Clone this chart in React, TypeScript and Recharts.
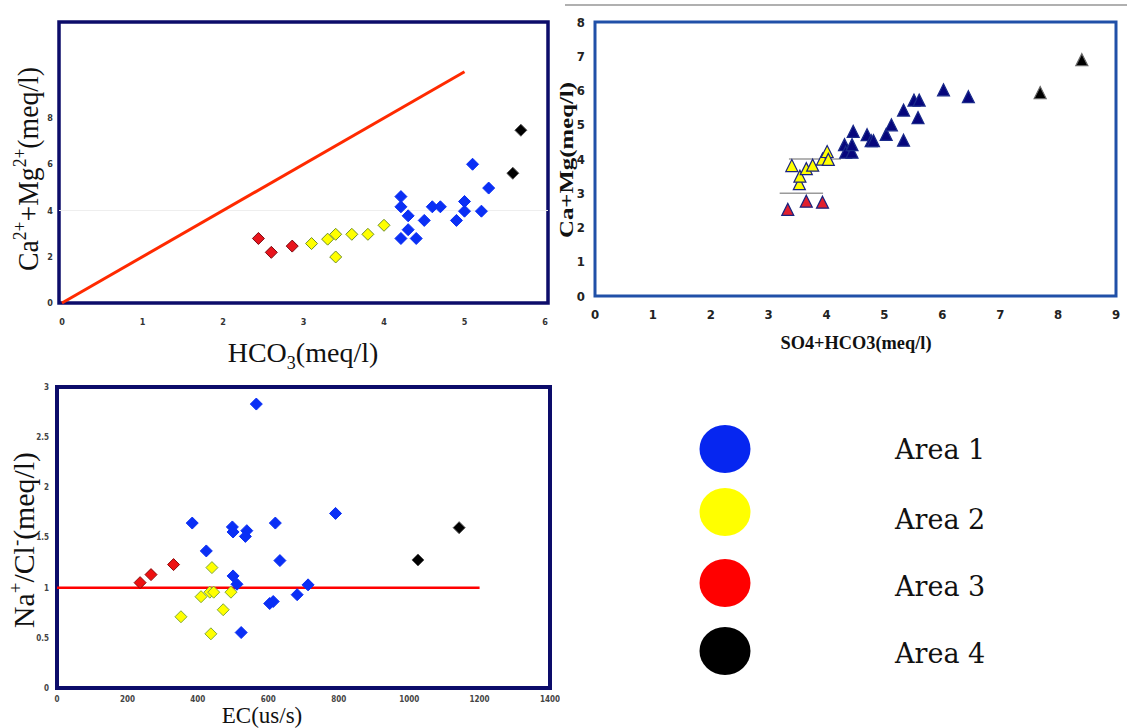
import React from "react";
import {
  ScatterChart,
  Scatter,
  XAxis,
  YAxis,
  ReferenceLine,
  ReferenceArea,
} from "recharts";

// top-left: HCO3 vs Ca2+ + Mg2+ (x, y pairs)
const hco3Area1 = [
  [4.21, 4.6], [4.21, 4.16], [4.21, 2.79], [4.3, 3.77], [4.3, 3.17],
  [4.4, 2.79], [4.5, 3.57], [4.6, 4.16], [4.7, 4.16], [4.9, 3.57],
  [5.0, 4.39], [5.0, 3.97], [5.1, 6.0], [5.21, 3.97], [5.3, 4.97],
];
const hco3Area2 = [
  [3.1, 2.57], [3.3, 2.76], [3.4, 2.97], [3.4, 1.99], [3.6, 2.97], [3.8, 2.97], [4.0, 3.36],
];
const hco3Area3 = [[2.44, 2.79], [2.6, 2.19], [2.86, 2.46]];
const hco3Area4 = [[5.6, 5.61], [5.7, 7.47]];
const hco3Line = [[0, 0], [5, 10]];
const hco3XTicks = [0, 1, 2, 3, 4, 5, 6];
const hco3YTicks = [0, 2, 4, 6, 8];

// top-right: SO4+HCO3 vs Ca+Mg
const so4Area1 = [
  [4.31, 4.39], [4.33, 4.17], [4.44, 4.17], [4.44, 4.39], [4.46, 4.78],
  [4.7, 4.68], [4.77, 4.51], [4.81, 4.51], [5.03, 4.69], [5.12, 4.97],
  [5.33, 4.52], [5.33, 5.4], [5.51, 5.69], [5.6, 5.69], [5.58, 5.18],
  [6.02, 5.99], [6.45, 5.79],
];
const so4Area2 = [
  [3.4, 3.78], [3.53, 3.25], [3.54, 3.47], [3.65, 3.69], [3.76, 3.79],
  [3.93, 3.97], [4.01, 4.19], [4.03, 3.96],
];
const so4Area3 = [[3.33, 2.5], [3.65, 2.74], [3.93, 2.71]];
const so4Area4 = [[7.69, 5.91], [8.41, 6.87]];
const so4GreyLines = [
  [[3.35, 4], [4.25, 4]],
  [[3.19, 3], [3.94, 3]],
];
const so4XTicks = [0, 1, 2, 3, 4, 5, 6, 7, 8, 9];
const so4YTicks = [0, 1, 2, 3, 4, 5, 6, 7, 8];

// bottom-left: EC vs Na+/Cl-
const ecArea1 = [
  [566, 2.83], [384, 1.644], [424, 1.366], [498, 1.605], [500, 1.555],
  [539, 1.568], [535, 1.511], [620, 1.644], [791, 1.74], [633, 1.27],
  [500, 1.117], [511, 1.034], [713, 1.028], [682, 0.93], [604, 0.842],
  [614, 0.862], [523, 0.553],
];
const ecArea2 = [
  [352, 0.71], [409, 0.91], [434, 0.955], [445, 0.955], [440, 1.2],
  [472, 0.78], [494, 0.955], [437, 0.54],
];
const ecArea3 = [[236, 1.05], [267, 1.13], [331, 1.23]];
const ecArea4 = [[1025, 1.276], [1142, 1.598]];
const ecLine = [[0, 1], [1200, 1]];
const ecXTicks = [0, 200, 400, 600, 800, 1000, 1200, 1400];
const ecYTicks = [0, 0.5, 1, 1.5, 2, 2.5, 3];

const areaNames = ["Area 1", "Area 2", "Area 3", "Area 4"];
const areaColors = ["#0626f0", "#ffff00", "#ff0000", "#000000"];

const toPts = (arr: number[][]) => arr.map(([x, y]) => ({ x, y }));

const NAVY = "#0c0c6a";
const SERIF = '"Liberation Serif", "Times New Roman", serif';
const WIDE_SERIF = '"DejaVu Serif", serif';

const diamond = (fill: string, stroke: string) => (p: any) => {
  const { cx, cy } = p;
  return (
    <path
      d={`M${cx},${cy - 6}L${cx + 6},${cy}L${cx},${cy + 6}L${cx - 6},${cy}Z`}
      fill={fill}
      stroke={stroke}
      strokeWidth={1}
    />
  );
};

const triangle = (fill: string, stroke: string) => (p: any) => {
  const { cx, cy } = p;
  return (
    <path
      d={`M${cx},${cy - 7}L${cx + 6},${cy + 5}L${cx - 6},${cy + 5}Z`}
      fill={fill}
      stroke={stroke}
      strokeWidth={1.2}
    />
  );
};

const smallTick = { fontSize: 9, fontWeight: 700, fill: "#333", fontFamily: '"DejaVu Sans Condensed", "DejaVu Sans", sans-serif' };
const tinyTick = { fontSize: 8, fontWeight: 700, fill: "#444", fontFamily: '"DejaVu Sans Condensed", "DejaVu Sans", sans-serif' };
const midTick = { fontSize: 13, fontWeight: 700, fill: "#222", fontFamily: '"Liberation Sans Narrow", "DejaVu Sans Condensed", sans-serif' };

function HcoChart() {
  return (
    <ScatterChart width={560} height={370} margin={{ top: 22, right: 12, left: 29, bottom: 37 }}>
      <XAxis
        type="number"
        dataKey="x"
        domain={[-0.037, 6.037]}
        ticks={hco3XTicks}
        interval={0}
        allowDataOverflow
        height={30}
        axisLine={false}
        tickLine={false}
        tickMargin={10}
        tick={smallTick}
      />
      <YAxis
        type="number"
        dataKey="y"
        domain={[0, 12.15]}
        ticks={hco3YTicks}
        interval={0}
        allowDataOverflow
        width={30}
        axisLine={false}
        tickLine={false}
        tickMargin={0}
        tick={smallTick}
      />
      <ReferenceLine y={4} stroke="#eeeeee" strokeWidth={1} />
      <ReferenceArea x1={-0.037} x2={6.037} y1={0} y2={12.15} fill="none" stroke={NAVY} strokeWidth={3.5} />
      <ReferenceLine segment={toPts(hco3Line)} stroke="#ff2a00" strokeWidth={3} ifOverflow="visible" />
      <Scatter data={toPts(hco3Area3)} shape={diamond("#e8141c", "#7a0a10")} isAnimationActive={false} />
      <Scatter data={toPts(hco3Area2)} shape={diamond("#ffff00", "#6f8f2a")} isAnimationActive={false} />
      <Scatter data={toPts(hco3Area1)} shape={diamond("#0a2ff5", "#0a2ff5")} isAnimationActive={false} />
      <Scatter data={toPts(hco3Area4)} shape={diamond("#000000", "#555555")} isAnimationActive={false} />
    </ScatterChart>
  );
}

function So4Chart() {
  return (
    <ScatterChart width={567} height={370} margin={{ top: 22, right: 11, left: 10, bottom: 44 }}>
      <XAxis
        type="number"
        dataKey="x"
        domain={[0, 9]}
        ticks={so4XTicks}
        interval={0}
        height={30}
        axisLine={false}
        tickLine={false}
        tickMargin={8}
        tick={midTick}
      />
      <YAxis
        type="number"
        dataKey="y"
        domain={[0, 8]}
        ticks={so4YTicks}
        interval={0}
        width={25}
        axisLine={false}
        tickLine={false}
        tickMargin={4}
        tick={midTick}
      />
      <ReferenceArea x1={0} x2={9} y1={0} y2={8} fill="none" stroke="#2050a8" strokeWidth={3} />
      {so4GreyLines.map((s, i) => (
        <ReferenceLine key={i} segment={toPts(s)} stroke="#9a9a9a" strokeWidth={1.5} />
      ))}
      <Scatter data={toPts(so4Area3)} shape={triangle("#e0202e", "#1a237e")} isAnimationActive={false} />
      <Scatter data={toPts(so4Area2)} shape={triangle("#ffff00", "#1a237e")} isAnimationActive={false} />
      <Scatter data={toPts(so4Area1)} shape={triangle("#06067c", "#1a2a8a")} isAnimationActive={false} />
      <Scatter data={toPts(so4Area4)} shape={triangle("#000000", "#666666")} isAnimationActive={false} />
    </ScatterChart>
  );
}

function EcChart() {
  return (
    <ScatterChart width={560} height={358} margin={{ top: 17, right: 10, left: 27, bottom: 15 }}>
      <XAxis
        type="number"
        dataKey="x"
        domain={[0, 1400]}
        ticks={ecXTicks}
        interval={0}
        height={25}
        axisLine={false}
        tickLine={false}
        tickMargin={2}
        tick={tinyTick}
      />
      <YAxis
        type="number"
        dataKey="y"
        domain={[0, 3]}
        ticks={ecYTicks}
        interval={0}
        width={30}
        axisLine={false}
        tickLine={false}
        tickMargin={2}
        tick={tinyTick}
      />
      <ReferenceArea x1={0} x2={1400} y1={0} y2={3} fill="none" stroke={NAVY} strokeWidth={4} />
      <ReferenceLine segment={toPts(ecLine)} stroke="#ff0000" strokeWidth={2.5} />
      <Scatter data={toPts(ecArea3)} shape={diamond("#ee1111", "#8a0a0a")} isAnimationActive={false} />
      <Scatter data={toPts(ecArea2)} shape={diamond("#ffff00", "#7fa83a")} isAnimationActive={false} />
      <Scatter data={toPts(ecArea1)} shape={diamond("#0a2ff5", "#0a2ff5")} isAnimationActive={false} />
      <Scatter data={toPts(ecArea4)} shape={diamond("#000000", "#555555")} isAnimationActive={false} />
    </ScatterChart>
  );
}

function Overlay() {
  return (
    <svg
      width={1127}
      height={728}
      style={{ position: "absolute", left: 0, top: 0, pointerEvents: "none" }}
    >
      <line x1={565} y1={5} x2={1127} y2={5} stroke="#b0b0b0" strokeWidth={2} />

      {/* top-left titles */}
      <text
        x={38}
        y={169}
        transform="rotate(-90 38 169)"
        textAnchor="middle"
        fontFamily={SERIF}
        fontSize={30}
        textLength={204}
        lengthAdjust="spacingAndGlyphs"
        fill="#111"
      >
        Ca<tspan fontSize={19} dy={-12}>2+</tspan>
        <tspan dy={12}>+Mg</tspan>
        <tspan fontSize={19} dy={-12}>2+</tspan>
        <tspan dy={12}>(meq/l)</tspan>
      </text>
      <text x={303} y={362} textAnchor="middle" fontFamily={SERIF} fontSize={28} fill="#111">
        HCO<tspan fontSize={18} dy={7}>3</tspan>
        <tspan dy={-7}>(meq/l)</tspan>
      </text>

      {/* top-right titles */}
      <text
        x={573}
        y={160}
        transform="rotate(-90 573 160)"
        textAnchor="middle"
        fontFamily={SERIF}
        fontWeight={700}
        fontSize={19}
        textLength={156}
        lengthAdjust="spacingAndGlyphs"
        fill="#111"
      >
        Ca+Mg(meq/l)
      </text>
      <text
        x={856}
        y={349}
        textAnchor="middle"
        fontFamily={SERIF}
        fontWeight={700}
        fontSize={19}
        textLength={151}
        lengthAdjust="spacingAndGlyphs"
        fill="#111"
      >
        SO4+HCO3(meq/l)
      </text>

      {/* bottom-left titles */}
      <text
        x={34}
        y={540}
        transform="rotate(-90 34 540)"
        textAnchor="middle"
        fontFamily={SERIF}
        fontSize={30}
        textLength={176}
        lengthAdjust="spacingAndGlyphs"
        fill="#111"
      >
        Na<tspan fontSize={19} dy={-12}>+</tspan>
        <tspan dy={12}>/Cl</tspan>
        <tspan fontSize={19} dy={-12}>-</tspan>
        <tspan dy={12}>(meq/l)</tspan>
      </text>
      <text x={262} y={723} textAnchor="middle" fontFamily={SERIF} fontSize={23} fill="#111">
        EC(us/s)
      </text>

      {/* legend */}
      {areaNames.map((name, i) => {
        const cy = [449, 512, 583, 651][i];
        const ty = [459, 529, 596, 663][i];
        return (
          <g key={name}>
            <ellipse cx={725} cy={cy} rx={25.5} ry={24} fill={areaColors[i]} />
            <text x={895} y={ty} fontFamily={WIDE_SERIF} fontSize={27} fill="#111">
              {name}
            </text>
          </g>
        );
      })}
    </svg>
  );
}

export default function App() {
  return (
    <div style={{ position: "absolute", left: 0, top: 0, width: 1127, height: 728, background: "#fff" }}>
      <div style={{ position: "absolute", left: 0, top: 0 }}>
        <HcoChart />
      </div>
      <div style={{ position: "absolute", left: 560, top: 0 }}>
        <So4Chart />
      </div>
      <div style={{ position: "absolute", left: 0, top: 370 }}>
        <EcChart />
      </div>
      <Overlay />
    </div>
  );
}
